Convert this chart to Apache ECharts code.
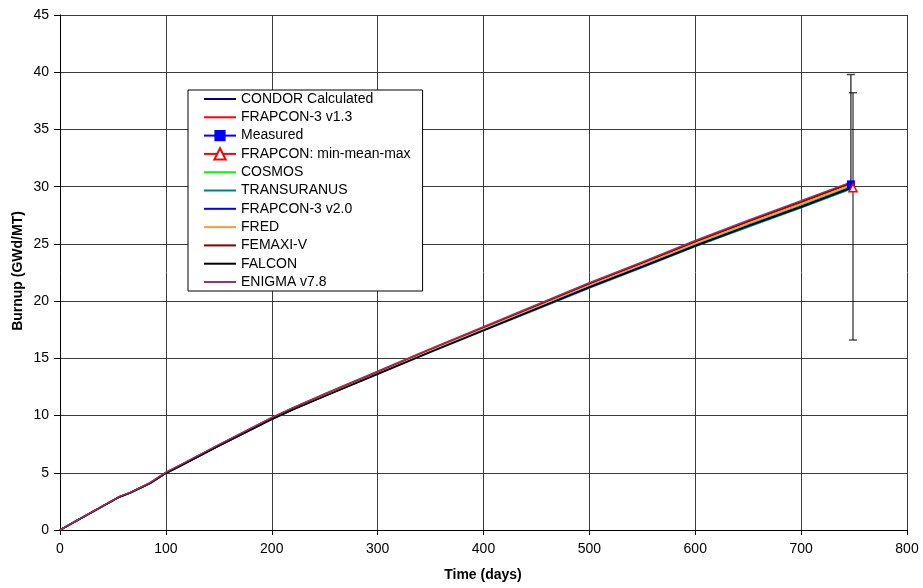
<!DOCTYPE html>
<html><head><meta charset="utf-8">
<script src="https://cdn.jsdelivr.net/npm/echarts@6/dist/echarts.min.js"></script>
<style>html,body{margin:0;padding:0;background:#fff}#c{width:923px;height:588px}</style>
</head><body><div id="c"></div>
<script>
var times = [0,56,66,85,100,115,150,200,220,250,300,350,400,450,500,550,600,650,700,747];
var condor      = [0,2.89,3.24,4.08,4.98,5.68,7.37,9.71,10.55,11.74,13.68,15.62,17.50,19.39,21.28,23.07,24.91,26.65,28.33,29.98];
var frapcon13   = [0,2.91,3.26,4.11,5.02,5.72,7.43,9.79,10.64,11.85,13.80,15.76,17.67,19.58,21.49,23.30,25.16,26.92,28.62,30.27];
var cosmos      = [0,2.90,3.24,4.09,4.99,5.69,7.38,9.73,10.57,11.76,13.71,15.65,17.54,19.43,21.33,23.12,24.96,26.70,28.39,30.03];
var transuranus = [0,2.88,3.22,4.06,4.95,5.65,7.33,9.66,10.50,11.68,13.60,15.52,17.40,19.27,21.15,22.93,24.76,26.48,28.15,29.80];
var frapcon20   = [0,2.89,3.23,4.08,4.97,5.67,7.36,9.70,10.54,11.73,13.66,15.60,17.48,19.36,21.25,23.04,24.87,26.60,28.28,29.93];
var fred        = [0,2.90,3.25,4.10,5.00,5.70,7.40,9.75,10.60,11.80,13.75,15.70,17.60,19.50,21.40,23.20,25.05,26.80,28.50,30.15];
var femaxi      = [0,2.91,3.26,4.12,5.03,5.73,7.44,9.80,10.66,11.87,13.83,15.80,17.71,19.62,21.54,23.35,25.21,26.98,28.69,30.32];
var falcon      = [0,2.88,3.23,4.07,4.96,5.66,7.35,9.68,10.52,11.70,13.63,15.56,17.44,19.32,21.20,22.99,24.82,26.55,28.22,29.87];
var enigma      = [0,2.92,3.27,4.13,5.04,5.75,7.46,9.83,10.69,11.90,13.87,15.84,17.76,19.68,21.60,23.42,25.29,27.06,28.78,30.40];

var measuredTime = [747];
var measuredValue = [30.2];
var measuredUpper = [39.8];
var frapMinMeanMaxTime = [749];
var frapMean = [29.9];
var frapMin = [16.6];
var frapMax = [38.2];

var xTicks = [0,100,200,300,400,500,600,700,800];
var yTicks = [0,5,10,15,20,25,30,35,40,45];

var seriesNames = ['CONDOR Calculated','FRAPCON-3 v1.3','Measured','FRAPCON: min-mean-max','COSMOS','TRANSURANUS','FRAPCON-3 v2.0','FRED','FEMAXI-V','FALCON','ENIGMA v7.8'];

function pairs(xs, ys){ return xs.map(function(x,i){ return [x, ys[i]]; }); }
var FONT = '"Liberation Sans", Arial, sans-serif';

var ICON_LINE = 'path://M0,0H32V2H0Z';

function lineSeries(name, arr, color){
  return {name:name, type:'line', data:pairs(times, arr), symbol:'none', showSymbol:false,
    lineStyle:{color:color, width:1.5}, itemStyle:{color:color}, animation:false, silent:true};
}
function errBar(color, width){
  return function(params, api){
    var x = api.value(0), lo = api.value(1), hi = api.value(2);
    var pLo = api.coord([x, lo]), pHi = api.coord([x, hi]);
    var cap = 4;
    var st = {stroke:color, lineWidth:width};
    return {type:'group', children:[
      {type:'line', shape:{x1:pLo[0], y1:pLo[1], x2:pHi[0], y2:pHi[1]}, style:st},
      {type:'line', shape:{x1:pHi[0]-cap, y1:pHi[1], x2:pHi[0]+cap, y2:pHi[1]}, style:st},
      {type:'line', shape:{x1:pLo[0]-cap, y1:pLo[1], x2:pLo[0]+cap, y2:pLo[1]}, style:st}
    ]};
  };
}

var legendData = seriesNames.map(function(n){
  if (n === 'Measured' || n === 'FRAPCON: min-mean-max') return {name:n};
  return {name:n, icon:ICON_LINE};
});

var chart = echarts.init(document.getElementById('c'), null, {renderer:'canvas'});
chart.setOption({
  animation:false,
  backgroundColor:'#fff',
  grid:{left:60, right:16, top:15, bottom:58, containLabel:false},
  xAxis:{type:'value', min:xTicks[0], max:xTicks[xTicks.length-1], interval:100,
    axisLine:{show:true, onZero:false, lineStyle:{color:'#000', width:1}},
    axisTick:{show:true, length:5, lineStyle:{color:'#000'}},
    axisLabel:{color:'#000', fontSize:14, fontFamily:FONT, margin:12},
    splitLine:{show:true, lineStyle:{color:'#3a3a3a', width:1}}},
  yAxis:{type:'value', min:yTicks[0], max:yTicks[yTicks.length-1], interval:5,
    axisLine:{show:true, onZero:false, lineStyle:{color:'#000', width:1}},
    axisTick:{show:true, length:6, lineStyle:{color:'#000'}},
    axisLabel:{color:'#000', fontSize:14, fontFamily:FONT, margin:11},
    splitLine:{show:true, lineStyle:{color:'#3a3a3a', width:1}}},
  legend:{orient:'vertical', left:188, top:90, itemWidth:32, itemHeight:14, itemGap:4.3,
    padding:[2,12,2,15], backgroundColor:'#fff', borderColor:'#000', borderWidth:1, borderRadius:0,
    symbolKeepAspect:true,
    textStyle:{color:'#000', fontSize:14, fontFamily:FONT},
    data:legendData},
  graphic:[
    {type:'text', x:483, y:575, style:{text:'Time (days)', font:'bold 14px '+FONT, fill:'#000', align:'center', verticalAlign:'middle'}, silent:true},
    {type:'text', rotation:Math.PI/2, x:18, y:271, style:{text:'Burnup (GWd/MT)', font:'bold 14px '+FONT, fill:'#000', align:'center', verticalAlign:'middle'}, silent:true}
  ],
  series:[
    lineSeries('CONDOR Calculated', condor, '#000080'),
    lineSeries('FRAPCON-3 v1.3', frapcon13, '#ff0000'),
    {name:'Measured-err', type:'custom', data:measuredTime.map(function(t,i){return [t, measuredValue[i], measuredUpper[i]];}),
      renderItem:errBar('#444', 1.5), silent:true, z:3},
    {name:'FRAPCON-err', type:'custom', data:frapMinMeanMaxTime.map(function(t,i){return [t, frapMin[i], frapMax[i]];}),
      renderItem:errBar('#000', 1), silent:true, z:3},
    {name:'Measured', type:'line', data:pairs(measuredTime, measuredValue), symbol:'rect', symbolSize:8,
      lineStyle:{color:'#0000ff', width:1.5}, itemStyle:{color:'#0000ff'}, z:5},
    {name:'FRAPCON: min-mean-max', type:'line', data:pairs(frapMinMeanMaxTime, frapMean), symbol:'triangle', symbolSize:8,
      lineStyle:{color:'#ff0000', width:1.5}, itemStyle:{color:'#fff', borderColor:'#ff0000', borderWidth:1.5}, z:6},
    lineSeries('COSMOS', cosmos, '#00ff00'),
    lineSeries('TRANSURANUS', transuranus, '#008080'),
    lineSeries('FRAPCON-3 v2.0', frapcon20, '#0000ff'),
    lineSeries('FRED', fred, '#ff9933'),
    lineSeries('FEMAXI-V', femaxi, '#800000'),
    lineSeries('FALCON', falcon, '#000000'),
    lineSeries('ENIGMA v7.8', enigma, '#993366')
  ]
});
</script></body></html>
